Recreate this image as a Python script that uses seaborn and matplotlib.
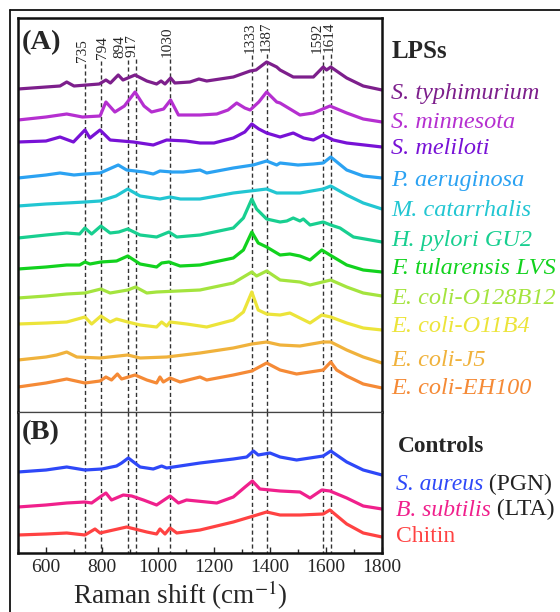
import numpy as np
import pandas as pd
import seaborn as sns
import matplotlib.pyplot as plt
from matplotlib.lines import Line2D

# spectra: (Raman shift, stacked reading), larger reading = lower on the plot
typhimurium = [(500, 89), (600, 87), (650, 86), (674, 82), (700, 86), (790, 84), (814, 80), (830, 83), (858, 75),
               (875, 80), (918, 75), (960, 81), (995, 84), (1011, 81), (1025, 84), (1045, 78), (1060, 83), (1114, 82),
               (1146, 79), (1174, 81), (1269, 77), (1329, 71), (1350, 70), (1388, 62), (1424, 67), (1436, 70),
               (1483, 77), (1555, 77), (1590, 67), (1602, 70), (1617, 67), (1674, 78), (1733, 86), (1800, 90)]
minnesota = [(500, 120), (600, 117), (674, 114), (730, 117), (793, 116), (814, 102), (846, 112), (880, 106), (918, 92),
             (950, 106), (977, 112), (1020, 109), (1045, 100), (1073, 115), (1150, 115), (1210, 114), (1250, 110),
             (1281, 103), (1310, 108), (1329, 110), (1360, 102), (1388, 92), (1424, 102), (1436, 103), (1507, 115),
             (1555, 113), (1614, 106), (1674, 113), (1733, 119), (1800, 122)]
meliloti = [(500, 142), (600, 141), (650, 137), (698, 142), (739, 130), (757, 138), (793, 130), (829, 140), (912, 142),
            (983, 145), (1031, 140), (1100, 141), (1150, 143), (1200, 143), (1269, 138), (1310, 132), (1335, 124),
            (1360, 129), (1388, 133), (1436, 137), (1483, 133), (1520, 138), (1555, 140), (1590, 135), (1626, 140),
            (1674, 143), (1800, 147)]
aeruginosa = [(500, 178), (600, 175), (650, 173), (700, 175), (739, 174), (793, 173), (858, 165), (888, 170),
              (950, 172), (983, 174), (1007, 171), (1050, 172), (1090, 172), (1150, 170), (1174, 173), (1269, 168),
              (1340, 165), (1388, 161), (1424, 165), (1436, 163), (1500, 165), (1555, 164), (1590, 163), (1617, 157),
              (1674, 170), (1733, 176), (1800, 178)]
catarrhalis = [(500, 206), (600, 204), (674, 203), (740, 202), (793, 201), (850, 196), (892, 189), (936, 196),
               (1007, 199), (1043, 197), (1080, 199), (1150, 199), (1269, 193), (1329, 191), (1388, 189), (1424, 193),
               (1436, 193), (1507, 193), (1590, 189), (1617, 186), (1674, 195), (1733, 203), (1800, 209)]
pylori = [(500, 238), (600, 235), (674, 233), (720, 234), (739, 228), (763, 234), (796, 226), (829, 233), (860, 232),
          (892, 229), (936, 235), (995, 237), (1039, 232), (1067, 237), (1150, 235), (1269, 228), (1305, 218),
          (1335, 199), (1352, 209), (1388, 219), (1436, 222), (1460, 221), (1483, 218), (1507, 221), (1519, 219),
          (1543, 225), (1590, 222), (1617, 225), (1650, 228), (1698, 237), (1800, 242)]
tularensis = [(500, 269), (600, 267), (674, 265), (720, 265), (739, 262), (757, 264), (796, 262), (852, 261),
              (892, 256), (936, 264), (995, 267), (1013, 263), (1039, 262), (1079, 266), (1150, 265), (1269, 258),
              (1305, 250), (1335, 232), (1358, 243), (1388, 247), (1436, 255), (1471, 254), (1507, 256), (1543, 260),
              (1585, 250), (1614, 255), (1674, 265), (1733, 270), (1800, 272)]
coli_o128 = [(500, 298), (600, 296), (674, 294), (739, 293), (796, 289), (829, 293), (892, 290), (920, 287),
             (960, 293), (995, 292), (1150, 290), (1269, 283), (1335, 272), (1352, 276), (1388, 271), (1436, 280),
             (1507, 282), (1543, 285), (1617, 280), (1674, 287), (1733, 293), (1800, 296)]
coli_o11 = [(500, 324), (600, 323), (674, 322), (739, 317), (763, 324), (796, 316), (829, 322), (852, 319), (892, 322),
            (936, 325), (995, 327), (1013, 322), (1031, 326), (1043, 322), (1102, 324), (1174, 327), (1269, 320),
            (1305, 312), (1335, 292), (1358, 310), (1388, 314), (1436, 315), (1471, 313), (1543, 323), (1585, 315),
            (1617, 317), (1674, 323), (1733, 328), (1800, 330)]
coli_j5 = [(500, 360), (600, 357), (638, 355), (674, 352), (710, 357), (793, 358), (892, 355), (936, 358), (1031, 357),
           (1150, 353), (1269, 348), (1335, 344), (1388, 342), (1436, 345), (1507, 346), (1590, 342), (1617, 342),
           (1674, 350), (1733, 357), (1800, 363)]
coli_eh100 = [(500, 387), (600, 383), (674, 379), (739, 383), (793, 381), (814, 377), (834, 380), (855, 374),
              (870, 379), (918, 375), (960, 380), (995, 383), (1007, 377), (1019, 382), (1043, 378), (1079, 382),
              (1150, 377), (1174, 380), (1269, 375), (1335, 371), (1388, 363), (1436, 370), (1495, 374), (1590, 370),
              (1617, 362), (1638, 370), (1674, 376), (1733, 384), (1800, 388)]

aureus = [(500, 472), (600, 470), (674, 467), (739, 470), (800, 469), (852, 466), (870, 463), (894, 458), (936, 467),
          (983, 469), (1013, 466), (1031, 468), (1150, 463), (1269, 459), (1317, 457), (1341, 451), (1358, 455),
          (1400, 453), (1436, 457), (1495, 460), (1590, 456), (1617, 451), (1674, 462), (1733, 470), (1800, 475)]
subtilis = [(500, 507), (600, 505), (674, 503), (739, 502), (763, 503), (793, 497), (814, 493), (834, 500), (876, 495),
            (906, 496), (948, 500), (995, 505), (1043, 496), (1073, 503), (1102, 500), (1210, 503), (1269, 497),
            (1311, 487), (1337, 481), (1364, 489), (1436, 491), (1507, 492), (1543, 498), (1585, 490), (1614, 491),
            (1674, 498), (1733, 506), (1800, 509)]
chitin = [(500, 535), (600, 534), (674, 533), (739, 535), (775, 529), (793, 533), (888, 527), (960, 532), (995, 534),
          (1007, 529), (1025, 534), (1043, 528), (1067, 533), (1150, 530), (1269, 522), (1341, 516), (1388, 512),
          (1436, 515), (1507, 515), (1590, 514), (1614, 510), (1674, 524), (1733, 533), (1800, 537)]

lps_names = ['S. typhimurium', 'S. minnesota', 'S. meliloti', 'P. aeruginosa', 'M. catarrhalis', 'H. pylori GU2',
             'F. tularensis LVS', 'E. coli-O128B12', 'E. coli-O11B4', 'E. coli-J5', 'E. coli-EH100']
lps_spectra = [typhimurium, minnesota, meliloti, aeruginosa, catarrhalis, pylori, tularensis,
               coli_o128, coli_o11, coli_j5, coli_eh100]
lps_colors = ['#7d1f8c', '#b52fd0', '#7812d6', '#2ba2f2', '#22c6d2', '#18cf90', '#12d21e',
              '#a4e43e', '#ece43a', '#f0b23c', '#f58a36']

ctrl_names = ['S. aureus', 'B. subtilis', 'Chitin']
ctrl_suffix = [' (PGN)', ' (LTA)', '']
ctrl_spectra = [aureus, subtilis, chitin]
ctrl_colors = ['#2e48f8', '#f0208c', '#ff4242']

# dashed marker lines and where their rotated labels sit
peak_labels = ['735', '794', '894', '917', '1030', '1333', '1387', '1592', '1614']
peak_pos = [739, 796, 892, 920, 1043, 1334, 1388, 1591, 1617]
label_pos = [732, 800, 864, 907, 1032, 1329, 1386, 1568, 1611]


def to_frame(names, spectra):
    rows = []
    for name, spec in zip(names, spectra):
        for wn, v in spec:
            rows.append((name, wn, v))
    return pd.DataFrame(rows, columns=['sample', 'wn', 'val'])


sns.set_style('ticks')
plt.rcParams['font.family'] = ['Liberation Serif', 'DejaVu Serif']
plt.rcParams['mathtext.fontset'] = 'stix'

W, H = 560, 612
fig = plt.figure(figsize=(W / 100, H / 100), dpi=100)
def fx(px): return px / W
def fy(py): return 1 - py / H

axA = fig.add_axes([fx(18), fy(412), fx(382 - 18), fy(18) - fy(412)])
axB = fig.add_axes([fx(18), fy(553), fx(382 - 18), fy(412) - fy(553)])

sns.lineplot(data=to_frame(lps_names, lps_spectra), x='wn', y='val', hue='sample',
             palette=dict(zip(lps_names, lps_colors)), sort=False, estimator=None,
             legend=False, lw=2.3, ax=axA)
sns.lineplot(data=to_frame(ctrl_names, ctrl_spectra), x='wn', y='val', hue='sample',
             palette=dict(zip(ctrl_names, ctrl_colors)), sort=False, estimator=None,
             legend=False, lw=2.3, ax=axB)

axA.set_ylim(412, 18)
axB.set_ylim(553, 412)
for ax in (axA, axB):
    ax.set_xlim(500, 1800)
    ax.set_yticks([])
    ax.set_ylabel('')
    ax.set_xlabel('')
    for s in ax.spines.values():
        s.set_linewidth(1.8)
        s.set_color('#111111')

axA.spines['bottom'].set_linewidth(0.9)
axA.spines['bottom'].set_color('#444444')
axB.spines['top'].set_linewidth(0.9)
axB.spines['top'].set_color('#444444')

axA.tick_params(axis='x', bottom=False, labelbottom=False)
axB.set_xticks(range(600, 1801, 200))
axB.set_xticks(range(500, 1801, 100), minor=True)
axB.tick_params(axis='x', which='major', direction='in', length=4, width=1, labelsize=14, pad=4)
axB.tick_params(axis='x', which='minor', direction='in', length=3, width=1)
axB.set_xlabel('Raman shift (cm$^{-1}$)', fontsize=19.5, va='baseline')
axB.xaxis.set_label_coords(0.445, -0.365)

label_bottoms = [62, 59, 58, 57, 57, 53, 52, 53, 52]
for x, xl, lab, yb in zip(peak_pos, label_pos, peak_labels, label_bottoms):
    axA.vlines(x, yb + 2, 412, colors='#333333', linestyles=(0, (3, 2)), lw=1.0, zorder=0)
    axB.vlines(x, 412, 553, colors='#333333', linestyles=(0, (3, 2)), lw=1.0, zorder=0)
    axA.text(xl, yb, lab, rotation=90, ha='center', va='bottom', fontsize=11)

fig.text(fx(22), fy(43), '(A)', fontsize=20.5, fontweight='bold', va='center')
fig.text(fx(22), fy(433), '(B)', fontsize=20.5, fontweight='bold', va='center')

# legends on the right
fig.text(fx(392), fy(52), 'LPSs', fontsize=18, fontweight='bold', va='center')
lps_y = [93, 122, 148, 180, 210, 241, 268, 298, 326, 360, 388]
for name, c, y in zip(lps_names, lps_colors, lps_y):
    fig.text(fx(391), fy(y), name, fontsize=17.5, style='italic', color=c, va='center')

fig.text(fx(398), fy(446), 'Controls', fontsize=16.8, fontweight='bold', va='center')
ctrl_y = [485, 510, 537]
for name, suf, c, y in zip(ctrl_names, ctrl_suffix, ctrl_colors, ctrl_y):
    st = 'normal' if name == 'Chitin' else 'italic'
    t = fig.text(fx(396), fy(y), name, fontsize=17, style=st, color=c, va='center')
    if suf:
        plt.annotate(suf, xy=(1, 0), xycoords=t, va='bottom', fontsize=17, color='#222222')

# outer frame
fig.add_artist(Line2D([fx(10), fx(10)], [0, fy(10)], color='#111111', lw=1.3))
fig.add_artist(Line2D([fx(10), 1], [fy(10), fy(10)], color='#111111', lw=1.3))

fig.savefig('out.png', dpi=100)
